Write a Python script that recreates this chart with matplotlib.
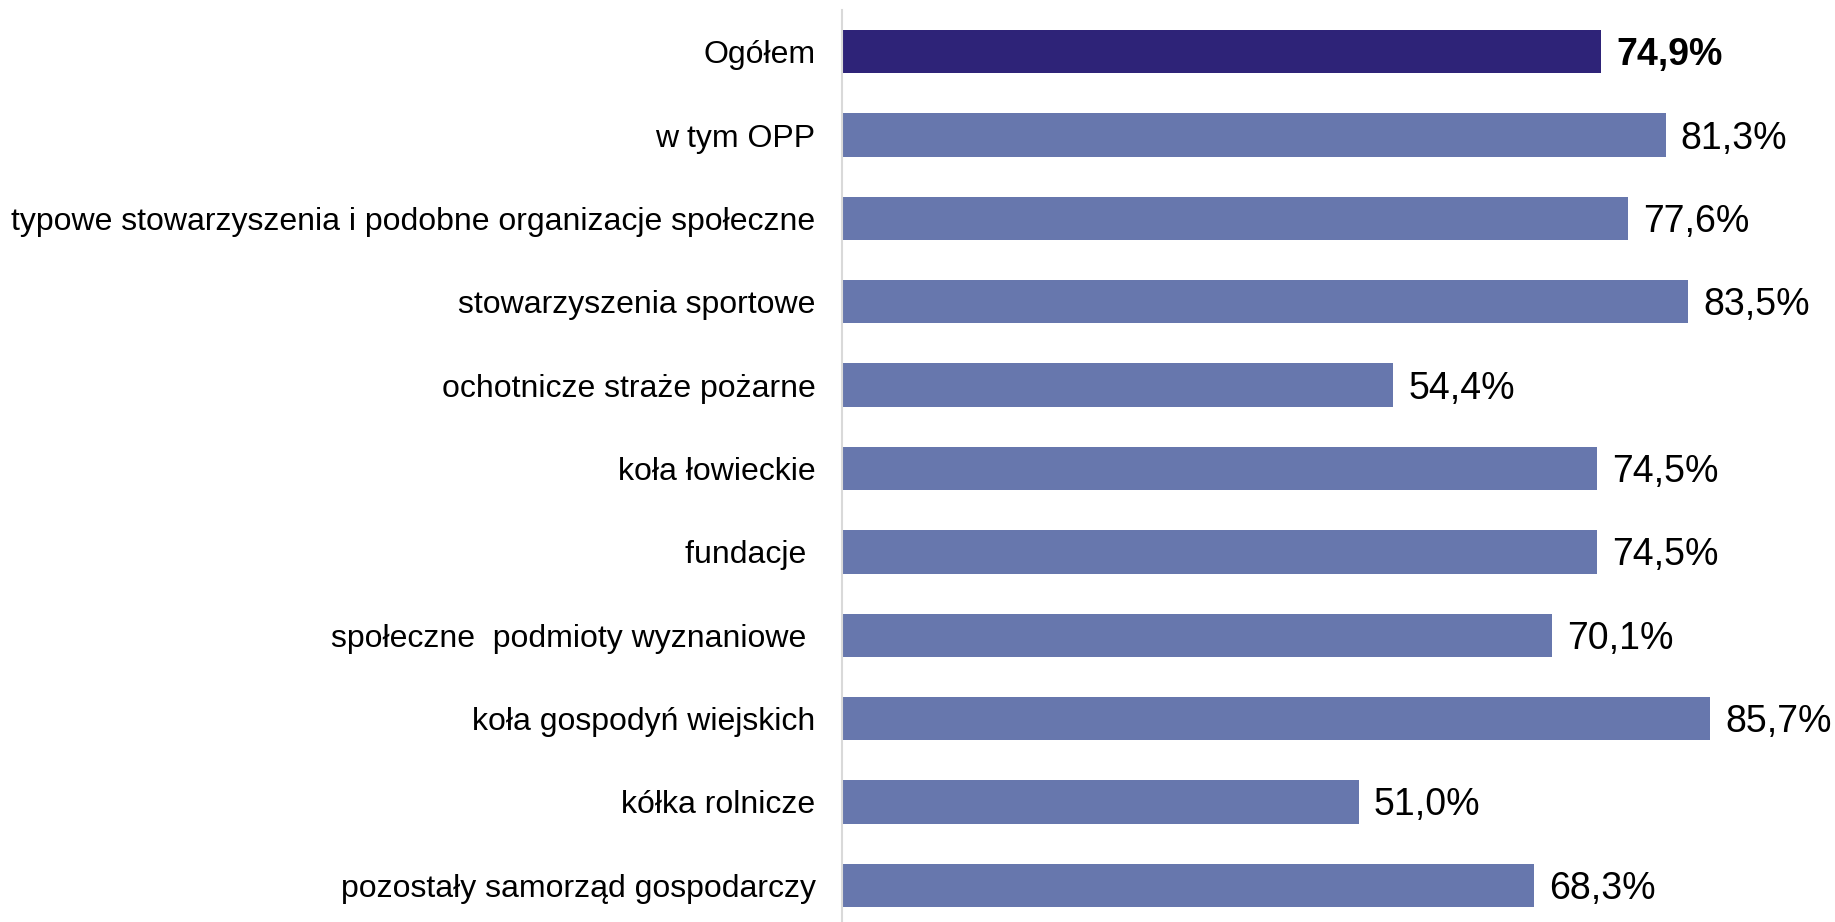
import matplotlib
matplotlib.use("Agg")
import matplotlib.pyplot as plt

categories = [
    "Ogółem",
    "w tym OPP",
    "typowe stowarzyszenia i podobne organizacje społeczne",
    "stowarzyszenia sportowe",
    "ochotnicze straże pożarne",
    "koła łowieckie",
    "fundacje ",
    "społeczne  podmioty wyznaniowe ",
    "koła gospodyń wiejskich",
    "kółka rolnicze",
    "pozostały samorząd gospodarczy",
]
values = [74.9, 81.3, 77.6, 83.5, 54.4, 74.5, 74.5, 70.1, 85.7, 51.0, 68.3]
value_labels = ["74,9%", "81,3%", "77,6%", "83,5%", "54,4%", "74,5%", "74,5%",
                "70,1%", "85,7%", "51,0%", "68,3%"]

plt.rcParams['font.family'] = ['Liberation Sans', 'DejaVu Sans']

W, H = 1835, 922
fig = plt.figure(figsize=(W / 100, H / 100), dpi=100)
left_px, right_px = 842, 842 + 1013
top_px, bot_px = 10, 927
ax = fig.add_axes([left_px / W, 1 - bot_px / H, (right_px - left_px) / W, (bot_px - top_px) / H])

colors = ['#2e2378'] + ['#6777ad'] * (len(values) - 1)
y = list(range(len(values)))
ax.barh(y, values, height=0.52, color=colors, edgecolor='none', zorder=2)

ax.set_xlim(0, 100)
ax.set_ylim(len(values) - 0.5, -0.5)

for i, (v, lab) in enumerate(zip(values, value_labels)):
    ax.annotate(lab, xy=(v, i), xytext=(11, -2.5), textcoords='offset points',
                ha='left', va='center', fontsize=27,
                fontweight='bold' if i == 0 else 'normal', color='black')

ax.set_yticks(y)
ax.set_yticklabels(categories, fontsize=23)
ax.tick_params(axis='y', length=0, pad=19)
ax.set_xticks([])
for s in ['top', 'right', 'bottom']:
    ax.spines[s].set_visible(False)
ax.spines['left'].set_color('#d9d9d9')
ax.spines['left'].set_linewidth(1.5)

fig.savefig("out.png", dpi=100)
